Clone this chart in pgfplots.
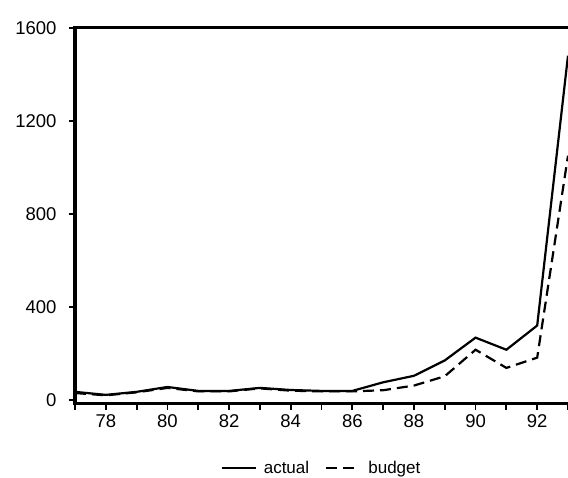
\documentclass[border=0pt]{standalone}
\usepackage{fontspec}
\setmainfont{Liberation Sans}
\usepackage{pgfplots}
\pgfplotsset{compat=1.18}

\pgfplotstableread{
year value
77 35
78 22
79 35
80 56
81 39
82 39
83 52
84 43
85 39
86 39
87 76
88 104
89 170
90 268
91 216
92 320
93 1480
}\actual

\pgfplotstableread{
year value
77 30
78 20
79 33
80 52
81 37
82 37
83 50
84 40
85 37
86 37
87 42
88 62
89 102
90 216
91 138
92 182
93 1050
}\budget

\begin{document}
\begin{tikzpicture}
\useasboundingbox (-75pt,-78pt) rectangle (493pt,400pt);
\begin{axis}[
    at={(0,0)}, anchor=origin,
    scale only axis,
    width=493pt, height=376pt,
    xmin=77, xmax=93,
    ymin=-16, ymax=1600,
    clip=false,
    axis x line*=bottom,
    axis y line*=left,
    axis line style={draw=none},
    xtick={78,80,...,92},
    minor xtick={77,79,...,93},
    ytick={0,400,800,1200,1600},
    tick align=outside,
    major tick length=6pt,
    minor tick length=6pt,
    every tick/.style={black, line width=1.8pt},
    tick label style={font=\fontsize{18.5}{21}\selectfont},
    xticklabel style={yshift=-1pt},
    yticklabel style={xshift=-9pt},
    /pgf/number format/assume math mode=true,
    /pgf/number format/1000 sep={},
    legend columns=2,
    legend style={at={(0.5,-0.172)}, anchor=center, draw=none,
        font=\fontsize{17}{20}\selectfont,
        /tikz/every even column/.append style={column sep=14pt}},
    legend image code/.code={\draw[#1] (0pt,0pt) -- (34pt,0pt);},
]
\addplot[black, line width=2.2pt] table[x=year, y=value] {\actual};
\addlegendentry{\hspace{5pt}actual}
\addplot[black, line width=2.2pt, dash pattern=on 11pt off 6pt] table[x=year, y=value] {\budget};
\addlegendentry{\hspace{5pt}budget}
\draw[line width=3.2pt, line cap=rect] (rel axis cs:1,0) -- (rel axis cs:0,0) -- (rel axis cs:0,1) -- (rel axis cs:1,1);
\end{axis}
\end{tikzpicture}
\end{document}
